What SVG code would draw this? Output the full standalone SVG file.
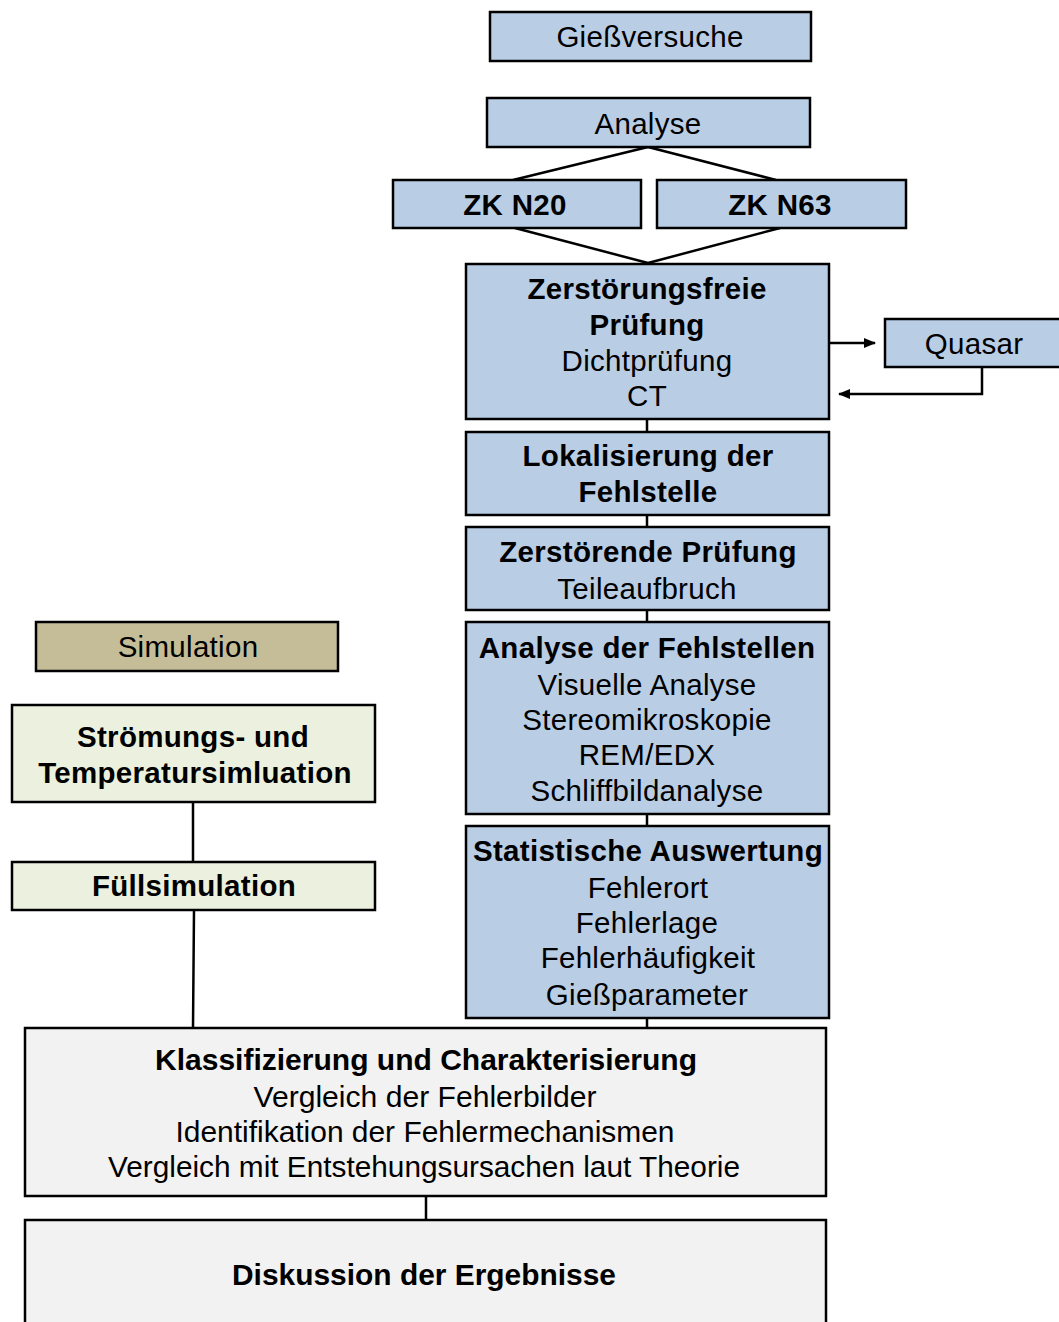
<svg xmlns="http://www.w3.org/2000/svg" width="1059" height="1322" viewBox="0 0 1059 1322">
<defs>
<style>
rect{stroke:#000;stroke-width:2.5}
.b{fill:#B9CDE5}
.s{fill:#C4BD97}
.g{fill:#EBF1DE}
.w{fill:#F2F2F2}
text{font-family:"Liberation Sans",Arial,sans-serif;font-size:29.5px;letter-spacing:0.3px;fill:#000;text-anchor:middle}
.t{font-weight:bold}
.n{letter-spacing:0}
.c{stroke:#000;stroke-width:2.5;fill:none}
</style>
<marker id="ah" viewBox="0 0 12 10" refX="11" refY="5" markerWidth="13" markerHeight="10" markerUnits="userSpaceOnUse" orient="auto"><path d="M0,0 L12,5 L0,10 z" fill="#000"/></marker>
</defs>
<rect width="1059" height="1322" fill="#fff" style="stroke:none"/>
<g id="connectors">
<path class="c" d="M648,147 L513,180 M648,147 L776,180 M515,228 L648,263 M780,228 L648,263"/>
<path class="c" d="M829,343 L875,343" marker-end="url(#ah)"/>
<path class="c" d="M982,367 L982,394 L839,394" marker-end="url(#ah)"/>
<path class="c" d="M647,419 V432 M647,515 V527 M647,610 V622 M647,814 V826 M647,1018 V1028"/>
<path class="c" d="M193,802 V862 M194,910 L193,1028 M426,1196 V1220"/>
</g>
<g id="giessversuche"><rect class="b" x="490" y="12" width="321" height="49"/><text x="650" y="47">Gießversuche</text></g>
<g id="analyse"><rect class="b" x="487" y="98" width="323" height="49"/><text x="648" y="134">Analyse</text></g>
<g id="zkn20"><rect class="b" x="393" y="180" width="248" height="48"/><text class="t" x="515" y="215">ZK N20</text></g>
<g id="zkn63"><rect class="b" x="657" y="180" width="249" height="48"/><text class="t" x="780" y="215">ZK N63</text></g>
<g id="zfp"><rect class="b" x="466" y="264" width="363" height="155"/>
<text class="t" x="647" y="299">Zerstörungsfreie</text><text class="t" x="647" y="335">Prüfung</text><text x="647" y="371">Dichtprüfung</text><text x="647" y="406">CT</text></g>
<g id="quasar"><rect class="b" x="885" y="319" width="200" height="48"/><text x="974" y="354">Quasar</text></g>
<g id="lokalisierung"><rect class="b" x="466" y="432" width="363" height="83"/>
<text class="t" x="648" y="466">Lokalisierung der</text><text class="t" x="648" y="502">Fehlstelle</text></g>
<g id="zp"><rect class="b" x="466" y="527" width="363" height="83"/>
<text class="t" x="648" y="562">Zerstörende Prüfung</text><text x="647" y="599">Teileaufbruch</text></g>
<g id="adf"><rect class="b" x="466" y="622" width="363" height="192"/>
<text class="t" x="647" y="658">Analyse der Fehlstellen</text><text x="647" y="695">Visuelle Analyse</text><text x="647" y="730">Stereomikroskopie</text><text x="647" y="765">REM/EDX</text><text x="647" y="801">Schliffbildanalyse</text></g>
<g id="stat"><rect class="b" x="466" y="826" width="363" height="192"/>
<text class="t" x="648" y="861">Statistische Auswertung</text><text x="648" y="898">Fehlerort</text><text x="647" y="933">Fehlerlage</text><text x="648" y="968">Fehlerhäufigkeit</text><text x="647" y="1005">Gießparameter</text></g>
<g id="simulation"><rect class="s" x="36" y="622" width="302" height="49"/><text x="188" y="657">Simulation</text></g>
<g id="stroemung"><rect class="g" x="12" y="705" width="363" height="97"/>
<text class="t" x="193" y="747">Strömungs- und</text><text class="t" x="195" y="783">Temperatursimluation</text></g>
<g id="fuell"><rect class="g" x="12" y="862" width="363" height="48"/><text class="t" x="194" y="896">Füllsimulation</text></g>
<g id="klass"><rect class="w" x="25" y="1028" width="801" height="168"/>
<text class="t n" x="426" y="1070" textLength="542" lengthAdjust="spacingAndGlyphs">Klassifizierung und Charakterisierung</text>
<text class="n" x="425" y="1107" textLength="343" lengthAdjust="spacingAndGlyphs">Vergleich der Fehlerbilder</text>
<text class="n" x="425" y="1142" textLength="499" lengthAdjust="spacingAndGlyphs">Identifikation der Fehlermechanismen</text>
<text class="n" x="424" y="1177" textLength="632" lengthAdjust="spacingAndGlyphs">Vergleich mit Entstehungsursachen laut Theorie</text></g>
<g id="diskussion"><rect class="w" x="25" y="1220" width="801" height="120"/>
<text class="t n" x="424" y="1285" textLength="384" lengthAdjust="spacingAndGlyphs">Diskussion der Ergebnisse</text></g>
</svg>
